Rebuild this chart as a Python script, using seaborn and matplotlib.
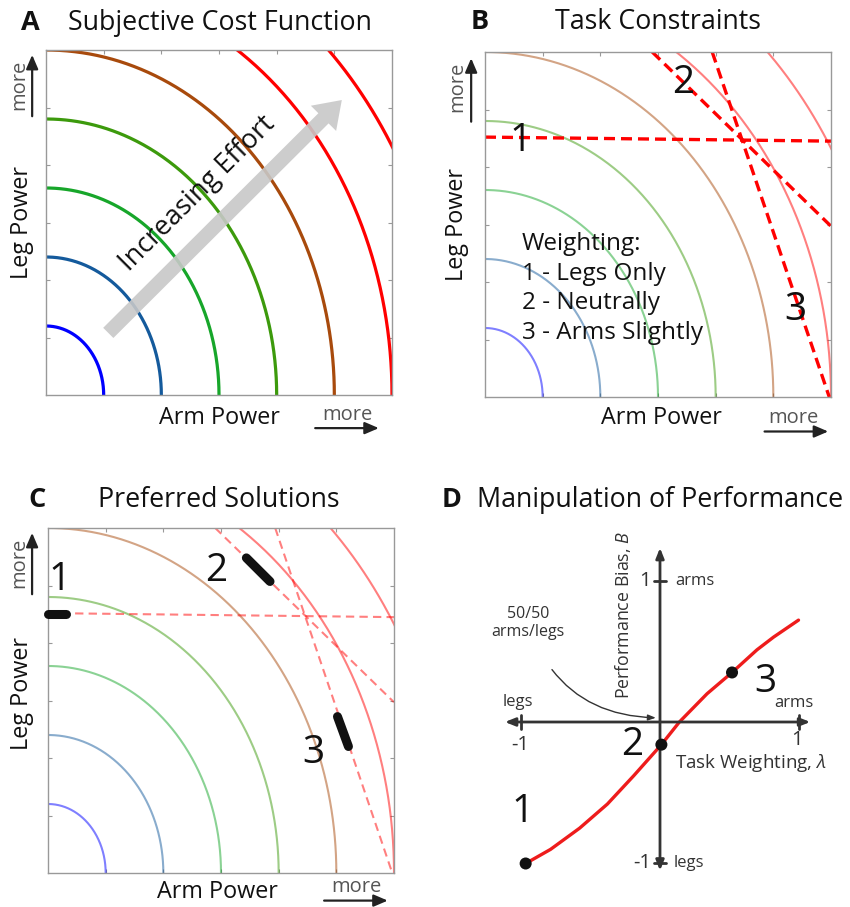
import numpy as np
import matplotlib
matplotlib.use("Agg")
import matplotlib.pyplot as plt
import seaborn as sns

sns.set_theme(style="white")
plt.rcParams['font.family'] = ['Open Sans', 'DejaVu Sans']
plt.rcParams['mathtext.fontset'] = 'custom'
plt.rcParams['mathtext.it'] = 'Open Sans:italic'
plt.rcParams['mathtext.rm'] = 'Open Sans'

# ---------------- data ----------------
radii = [1, 2, 3, 4, 5, 6, 7]
y_stretch = 1.2
arc_colors = ["#0000ff", "#145a9c", "#17a62a", "#3c9a0c", "#a84a0c", "#ff0000", "#ff0000"]
grid_ticks = [1, 2, 3, 4, 5]

constraint_x = [[0.0, 6.0], [2.9, 6.0], [3.94, 5.97]]
constraint_y = [[4.52, 4.45], [6.0, 2.97], [6.0, 0.0]]

labels_B = ["1", "2", "3"]
labels_B_x = [0.61, 3.44, 5.39]
labels_B_y = [4.45, 5.46, 1.52]
weighting_text = "Weighting:\n1 - Legs Only\n2 - Neutrally\n3 - Arms Slightly"

solution_x = [[0.0, 0.32], [3.44, 3.85], [5.02, 5.21]]
solution_y = [[4.51, 4.51], [5.48, 5.07], [2.72, 2.20]]
labels_C_x = [0.2, 2.92, 4.6]
labels_C_y = [5.1, 5.25, 2.09]

task_weighting = [-0.97, -0.79, -0.58, -0.38, -0.19, 0.01, 0.14, 0.34, 0.52, 0.70, 0.82, 1.00]
performance_bias = [-1.00, -0.90, -0.75, -0.58, -0.38, -0.16, 0.00, 0.20, 0.35, 0.51, 0.60, 0.72]
dot_lambda = [-0.97, 0.01, 0.52]
dot_bias = [-1.00, -0.16, 0.35]
labels_D = ["1", "2", "3"]
labels_D_x = [-0.99, -0.20, 0.758]
labels_D_y = [-0.636, -0.163, 0.283]

# ---------------- figure ----------------
W, H = 850, 907
fig = plt.figure(figsize=(W / 100, H / 100), dpi=100)


def px_axes(left, top, right, bottom):
    return fig.add_axes([left / W, 1 - bottom / H, (right - left) / W, (bottom - top) / H])


theta = np.linspace(0, np.pi / 2, 300)


def draw_arcs(ax, lw, alpha):
    for r, c in zip(radii, arc_colors):
        sns.lineplot(x=r * np.cos(theta), y=y_stretch * r * np.sin(theta), ax=ax,
                     color=c, lw=lw, alpha=alpha, sort=False, estimator=None)


def frame(ax, xarrow, xmore, yarrow, ymore, xlab, ylab):
    ax.set_xlim(0, 6)
    ax.set_ylim(0, 6)
    ax.set_xticks(grid_ticks)
    ax.set_yticks(grid_ticks)
    ax.tick_params(direction='in', length=3, width=0.8, color='#999999',
                   bottom=True, top=True, left=True, right=True,
                   labelbottom=False, labelleft=False)
    for s in ax.spines.values():
        s.set_color('#999999')
        s.set_linewidth(1.0)
    ax.set_xlabel("")
    ax.set_ylabel("")
    ax.text(xlab[0], xlab[1], "Arm Power", transform=ax.transAxes, fontsize=16.8,
            ha='center', va='center', color='#111111')
    ax.text(ylab[0], ylab[1], "Leg Power", transform=ax.transAxes, fontsize=16.8,
            ha='center', va='center', rotation=90, color='#111111')
    ax.annotate("", xy=(xarrow[1], xarrow[2]), xytext=(xarrow[0], xarrow[2]),
                xycoords='axes fraction', textcoords='axes fraction',
                arrowprops=dict(arrowstyle='-|>,head_width=0.3,head_length=0.7',
                                color='#222222', lw=1.6), annotation_clip=False)
    ax.text(xmore[0], xmore[1], "more", transform=ax.transAxes, fontsize=14.5,
            ha='center', va='center', color='#555555')
    ax.annotate("", xy=(yarrow[0], yarrow[2]), xytext=(yarrow[0], yarrow[1]),
                xycoords='axes fraction', textcoords='axes fraction',
                arrowprops=dict(arrowstyle='-|>,head_width=0.3,head_length=0.7',
                                color='#222222', lw=1.6), annotation_clip=False)
    ax.text(ymore[0], ymore[1], "more", transform=ax.transAxes, fontsize=14.5,
            ha='center', va='center', rotation=90, color='#555555')


# ---- Panel A ----
axA = px_axes(46, 50, 392, 395)
draw_arcs(axA, 2.3, 1.0)
axA.arrow(1.08, 1.08, 4.05, 4.05, width=0.25, head_width=0.62, head_length=0.45,
          length_includes_head=True, color='#c8c8c8', ec='none', alpha=0.9, zorder=5)
axA.text(2.62, 3.51, "Increasing Effort", rotation=45, fontsize=19.5, ha='center',
         va='center', color='#111111', zorder=6, rotation_mode='anchor')
frame(axA, (0.77, 0.97, -0.096), (0.87, -0.058), (-0.04, 0.80, 0.994), (-0.078, 0.90),
      (0.50, -0.067), (-0.07, 0.5))

# ---- Panel B ----
axB = px_axes(485, 52, 831, 397)
draw_arcs(axB, 1.5, 0.5)
for xs, ys in zip(constraint_x, constraint_y):
    sns.lineplot(x=xs, y=ys, ax=axB, color='#ff0000', lw=2.4, sort=False,
                 estimator=None)
    axB.lines[-1].set_dashes((3.3, 1.8))
for t, x, y in zip(labels_B, labels_B_x, labels_B_y):
    axB.text(x, y, t, fontsize=28, ha='center', va='center', color='#111111')
axB.text(0.64, 2.87, weighting_text, fontsize=17.5, ha='left', va='top',
         linespacing=1.32, color='#111111')
frame(axB, (0.80, 1.0, -0.10), (0.89, -0.06), (-0.04, 0.79, 0.99), (-0.08, 0.90),
      (0.51, -0.06), (-0.08, 0.5))

# ---- Panel C ----
axC = px_axes(48, 528, 394, 873)
draw_arcs(axC, 1.5, 0.5)
for xs, ys in zip(constraint_x, constraint_y):
    sns.lineplot(x=xs, y=ys, ax=axC, color='#ff0000', lw=1.5, alpha=0.5, sort=False,
                 estimator=None)
    axC.lines[-1].set_dashes((4, 2.5))
for xs, ys in zip(solution_x, solution_y):
    sns.lineplot(x=xs, y=ys, ax=axC, color='#111111', lw=6.5, sort=False,
                 estimator=None)
    axC.lines[-1].set_solid_capstyle('round')
    axC.lines[-1].set_clip_on(False)
    axC.lines[-1].set_zorder(6)
for t, x, y in zip(labels_B, labels_C_x, labels_C_y):
    axC.text(x, y, t, fontsize=28, ha='center', va='center', color='#111111')
frame(axC, (0.79, 0.99, -0.08), (0.89, -0.04), (-0.046, 0.80, 0.994), (-0.084, 0.90),
      (0.49, -0.055), (-0.075, 0.52))

# ---- Panel D ----
axD = px_axes(480, 530, 840, 890)
axD.set_xlim(-1.2996, 1.2996)
axD.set_ylim(-1.1873, 1.3569)
axD.axis('off')
ax_col = '#333333'
axD.annotate("", xy=(1.105, 0), xytext=(-1.14, 0),
             arrowprops=dict(arrowstyle='<|-|>,head_width=0.2,head_length=0.5', color=ax_col, lw=2.0))
axD.annotate("", xy=(0, 1.25), xytext=(0, -1.07),
             arrowprops=dict(arrowstyle='<|-|>,head_width=0.2,head_length=0.5', color=ax_col, lw=2.0))
for v in [-1, 1]:
    axD.plot([v, v], [-0.05, 0.05], color=ax_col, lw=2.0)
    axD.plot([-0.045, 0.045], [v, v], color=ax_col, lw=2.0)
sns.lineplot(x=task_weighting, y=performance_bias, ax=axD, color='#ee1c1c', lw=2.4,
             sort=False, estimator=None)
sns.scatterplot(x=dot_lambda, y=dot_bias, ax=axD, color='#111111', s=75, zorder=5,
                edgecolor='none')
for t, x, y in zip(labels_D, labels_D_x, labels_D_y):
    axD.text(x, y, t, fontsize=28, ha='center', va='center', color='#111111')
sm = dict(fontsize=12, color='#333333', va='center')
axD.text(-1.025, 0.141, "legs", ha='center', **sm)
axD.text(0.968, 0.134, "arms", ha='center', **sm)
axD.text(0.11, 1.0, "arms", ha='left', **sm)
axD.text(0.095, -1.0, "legs", ha='left', **sm)
axD.text(-1.01, -0.163, "-1", ha='center', fontsize=14.5, color='#333333', va='center')
axD.text(0.99, -0.127, "1", ha='center', fontsize=14.5, color='#333333', va='center')
axD.text(-0.065, 1.0, "1", ha='right', fontsize=14.5, color='#333333', va='center')
axD.text(-0.06, -1.0, "-1", ha='right', fontsize=14.5, color='#333333', va='center')
axD.text(-0.267, 0.756, r"Performance Bias, $\mathit{B}$", rotation=90, fontsize=12.8,
         ha='center', va='center', color='#333333')
axD.text(0.108, -0.29, r"Task Weighting, $\mathit{\lambda}$", fontsize=13.5,
         ha='left', va='center', color='#333333')
axD.annotate("50/50\narms/legs", xy=(-0.03, 0.03), xytext=(-0.953, 0.70),
             ha='center', va='center', fontsize=11.5, color='#333333',
             arrowprops=dict(arrowstyle='-|>,head_width=0.15,head_length=0.4',
                             color='#333333', lw=1.0, shrinkA=22, shrinkB=0,
                             connectionstyle='arc3,rad=0.35'))

# ---- titles ----
titles = [("A", 30, 23, "Subjective Cost Function", 220, 23),
          ("B", 480, 22, "Task Constraints", 658, 22),
          ("C", 37, 500, "Preferred Solutions", 219, 500),
          ("D", 452, 500, "Manipulation of Performance", 660, 500)]
for letter, lx, ly, title, tx, ty in titles:
    fig.text(lx / W, 1 - ly / H, letter, fontsize=19.5, fontweight='bold', ha='center',
             va='center', color='#111111')
    fig.text(tx / W, 1 - ty / H, title, fontsize=19.3, ha='center', va='center',
             color='#111111')

fig.savefig("out.png", dpi=100, facecolor='white')
